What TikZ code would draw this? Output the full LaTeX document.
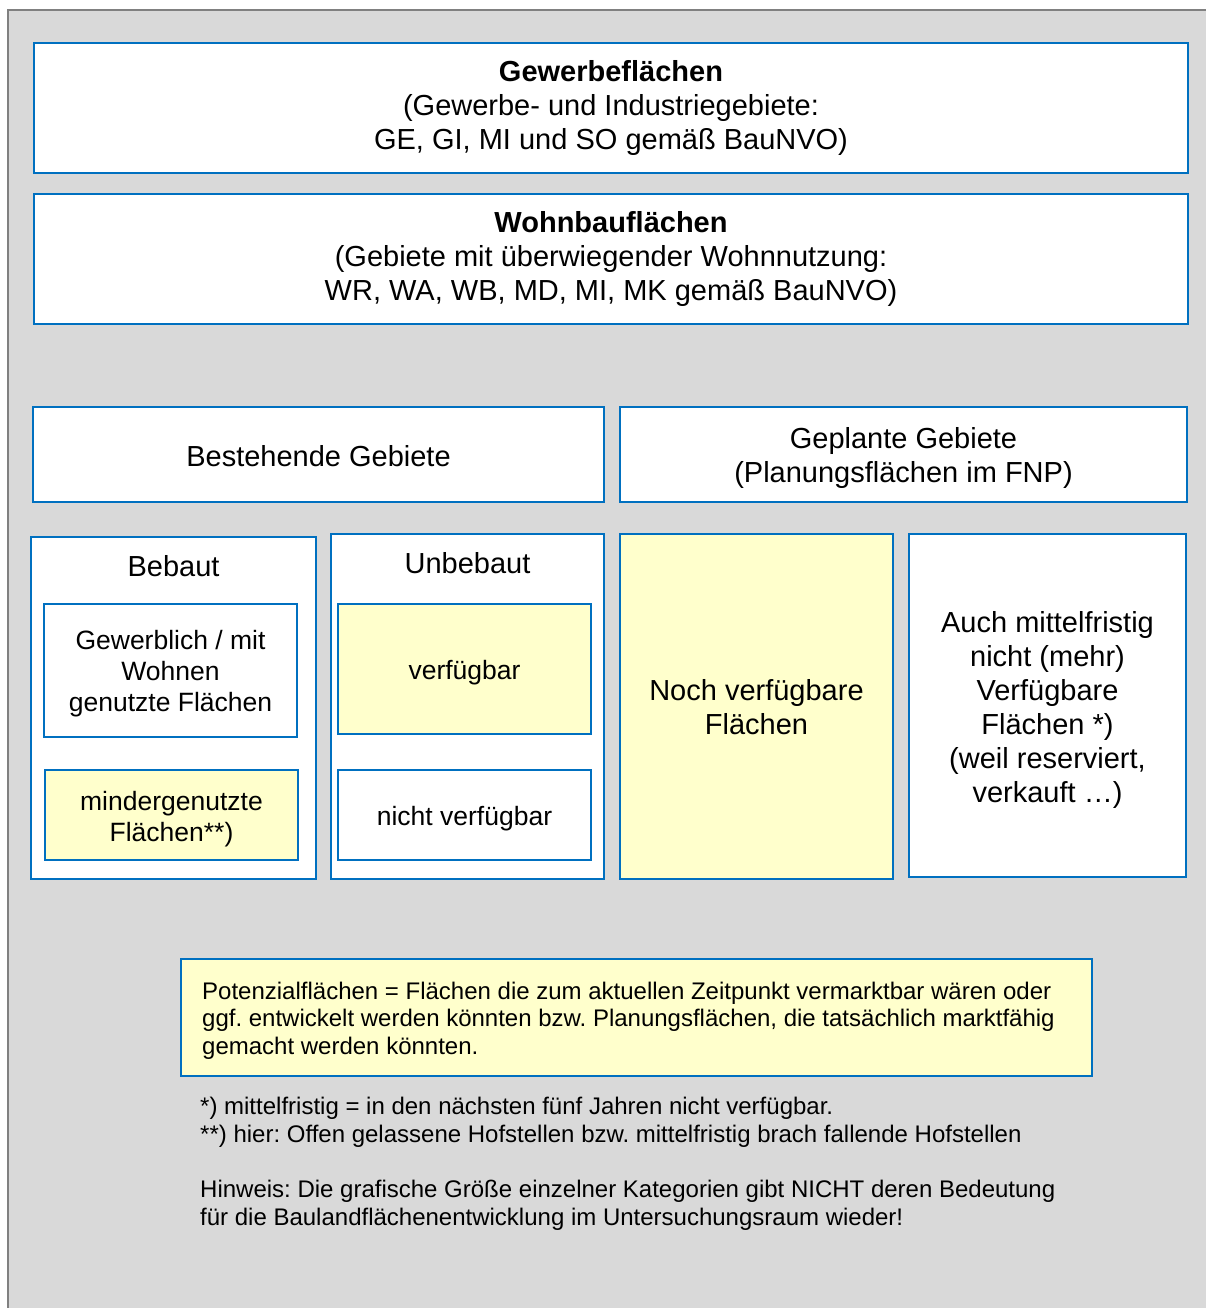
\documentclass[tikz,border=0pt]{standalone}
\usepackage{fontspec}
\setmainfont{Liberation Sans}
\definecolor{bl}{HTML}{0070C0}
\definecolor{yl}{HTML}{FFFFCC}
\definecolor{bg}{HTML}{D9D9D9}
\definecolor{frame}{HTML}{808080}
\frenchspacing
\begin{document}
\begin{tikzpicture}[x=1pt,y=-1pt,
  box/.style={draw=bl, line width=2pt, fill=white, inner sep=0pt, align=center},
  ylw/.style={box, fill=yl},
  big/.style={font=\fontsize{29}{34}\selectfont},
  mid/.style={font=\fontsize{26.5}{31}\selectfont},
  sml/.style={font=\fontsize{24}{27.6}\selectfont},
  plain/.style={inner sep=0pt}]
\useasboundingbox (0,0) rectangle (1206,1308);
\clip (0,0) rectangle (1206,1308);
\draw[draw=frame, line width=2pt, fill=bg] (8,10) rectangle (1240,1340);

\node[box, big, minimum width=1154pt, minimum height=130pt] (gew) at (611,108)
  {\textbf{Gewerbeflächen}\\(Gewerbe- und Industriegebiete:\\GE, GI, MI und SO gemäß BauNVO)};
\node[box, big, minimum width=1154pt, minimum height=130pt] (wohn) at (611,259)
  {\textbf{Wohnbauflächen}\\(Gebiete mit überwiegender Wohnnutzung:\\WR, WA, WB, MD, MI, MK gemäß BauNVO)};

\node[box, minimum width=571pt, minimum height=95pt,
  label={[big,align=center,yshift=-2pt]center:{Bestehende Gebiete}}] (best) at (318.5,454.5) {};
\node[box, minimum width=567pt, minimum height=95pt,
  label={[big,align=center,yshift=-3.5pt]center:{Geplante Gebiete\\(Planungsflächen im FNP)}}] (gepl) at (903.5,454.5) {};

\node[box, minimum width=285pt, minimum height=342pt] (bebaut) at (173.5,708) {};
\node[plain, big] (bebautl) at (173.5,566) {Bebaut};
\node[box, minimum width=253pt, minimum height=133pt,
  label={[mid,align=center,yshift=-3pt]center:{Gewerblich / mit\\Wohnen\\genutzte Flächen}}] (gewerbl) at (170.5,670.5) {};
\node[ylw, minimum width=253pt, minimum height=90pt,
  label={[mid,align=center,yshift=-4pt]center:{mindergenutzte\\Flächen**)}}] (minder) at (171.5,815) {};

\node[box, minimum width=273pt, minimum height=345pt] (unbebaut) at (467.5,706.5) {};
\node[plain, big] (unbebautl) at (467.5,563) {Unbebaut};
\node[ylw, minimum width=253pt, minimum height=130pt,
  label={[mid,align=center,yshift=-4pt]center:{verfügbar}}] (verf) at (464.5,669) {};
\node[box, minimum width=253pt, minimum height=90pt,
  label={[mid,align=center,yshift=-4pt]center:{nicht verfügbar}}] (nverf) at (464.5,815) {};

\node[ylw, minimum width=273pt, minimum height=345pt,
  label={[big,align=center,yshift=-1pt]center:{Noch verfügbare\\Flächen}}] (noch) at (756.5,706.5) {};
\node[box, minimum width=277pt, minimum height=343pt,
  label={[big,align=center,yshift=-4pt]center:{Auch mittelfristig\\nicht (mehr)\\Verfügbare\\Flächen *)\\(weil reserviert,\\verkauft …)}}] (auch) at (1047.5,705.5) {};

\node[ylw, minimum width=911pt, minimum height=117pt] (pot) at (636.5,1017.5) {};
\node[plain, sml, anchor=west, align=left] (pottxt) at (202,1020.5)
  {Potenzialflächen = Flächen die zum aktuellen Zeitpunkt vermarktbar wären oder\\ggf. entwickelt werden könnten bzw. Planungsflächen, die tatsächlich marktfähig\\gemacht werden könnten.};

\node[plain, sml, anchor=west, align=left] (fn) at (200,1122)
  {*) mittelfristig = in den nächsten fünf Jahren nicht verfügbar.\\**) hier: Offen gelassene Hofstellen bzw. mittelfristig brach fallende Hofstellen};
\node[plain, sml, anchor=west, align=left] (hinw) at (200,1205)
  {Hinweis: Die grafische Größe einzelner Kategorien gibt NICHT deren Bedeutung\\für die Baulandflächenentwicklung im Untersuchungsraum wieder!};
\end{tikzpicture}
\end{document}
